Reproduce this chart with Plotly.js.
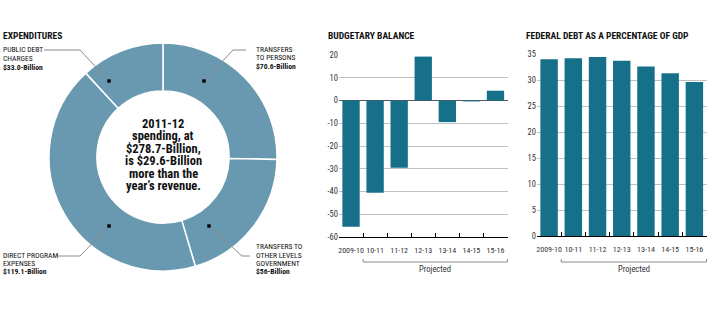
<!DOCTYPE html>
<html><head><meta charset="utf-8">
<script src="https://cdn.plot.ly/plotly-3.0.1.min.js"></script>
<style>html,body{margin:0;padding:0;background:#fff}#chart{width:725px;height:322px}</style>
</head><body><div id="chart"></div>
<script>
// ---- data ----
const spendCategories = ["Transfers to persons", "Transfers to other levels of government", "Direct program expenses", "Public debt charges"];
const spendValues = [70.6, 56, 119.1, 33.0];
const years = ["2009-10", "10-11", "11-12", "12-13", "13-14", "14-15", "15-16"];
const balanceValues = [-55.5, -40.6, -29.6, 19.3, -9.5, -0.4, 4.3];
const debtValues = [34.0, 34.2, 34.4, 33.7, 32.6, 31.3, 29.6];
const balanceTicks = [-60, -50, -40, -30, -20, -10, 0, 10, 20];
const debtTicks = [0, 5, 10, 15, 20, 25, 30, 35];
const centerLines = ["2011-12", "spending, at", "$278.7-Billion,", "is $29.6-Billion", "more than the", "year\u2019s revenue."];
const labelPublicDebt = ["PUBLIC DEBT", "CHARGES", "<b>$33.0-Billion</b>"];
const labelPersons = ["TRANSFERS", "TO PERSONS", "<b>$70.6-Billion</b>"];
const labelOther = ["TRANSFERS TO", "OTHER LEVELS", "GOVERNMENT", "<b>$56-Billion</b>"];
const labelDirect = ["DIRECT PROGRAM", "EXPENSES", "<b>$119.1-Billion</b>"];

// ---- helpers ----
const W = 725, H = 322;
const px = x => x / W, py = y => 1 - y / H;
const FONT = "Roboto Condensed, Liberation Sans Narrow, Roboto, sans-serif";
const RING = "#6899b0", BAR = "#17708a";
const annotations = [];
const shapes = [];
function lines(arr, x, y0, step, size, align, bold, color) {
  arr.forEach((t, i) => annotations.push({
    xref: "paper", yref: "paper", x: px(x), y: py(y0 + i * step),
    xanchor: align, yanchor: "middle", showarrow: false,
    text: bold ? "<b>" + t + "</b>" : t,
    font: {family: FONT, size: size, color: color || "#111"}
  }));
}
function seg(pts) {
  for (let i = 0; i < pts.length - 1; i++) shapes.push({type: "line", xref: "paper", yref: "paper",
    x0: px(pts[i][0]), y0: py(pts[i][1]), x1: px(pts[i + 1][0]), y1: py(pts[i + 1][1]),
    line: {color: "#8a8a8a", width: 1}});
}
function dot(x, y) {
  shapes.push({type: "rect", xref: "paper", yref: "paper", x0: px(x - 1.7), x1: px(x + 1.7), y0: py(y + 1.7), y1: py(y - 1.7),
    fillcolor: "#000", line: {width: 0}});
}

// titles
lines(["EXPENDITURES"], 1, 35, 0, 9.5, "left", true);
lines(["BUDGETARY BALANCE"], 326, 35, 0, 9.5, "left", true);
lines(["FEDERAL DEBT AS A PERCENTAGE OF GDP"], 524, 35, 0, 9.5, "left", true);

// donut center
lines(centerLines, 163, 123, 12.5, 12.5, "center", true);

// labels
lines(labelPublicDebt, 1, 49, 9, 7.6, "left");
lines(labelPersons, 254, 49, 8.5, 7.6, "left");
lines(labelOther, 254, 247, 8.2, 7.6, "left");
lines(labelDirect, 1, 255, 8.2, 7.6, "left");

// leaders
seg([[44, 50], [80, 50], [109, 81]]); dot(109, 81);
seg([[246, 50], [233, 50], [204, 81]]); dot(204, 81);
seg([[209, 226], [242, 256], [250, 256]]); dot(209, 226);
seg([[109, 226], [80, 256], [58, 256]]); dot(109, 226);

// projected brackets (data-linked x)
function bracket(xr, y) {
  shapes.push({type: "path", xref: xr, yref: "paper",
    path: `M 0.5,${py(y - 3)} L 0.5,${py(y)} L 6.5,${py(y)} L 6.5,${py(y - 3)}`,
    line: {color: "#8a8a8a", width: 1}});
  annotations.push({xref: xr, yref: "paper", x: 3.5, y: py(y + 7), showarrow: false,
    text: "Projected", xanchor: "center", yanchor: "middle", font: {family: FONT, size: 8.5, color: "#333"}});
}
bracket("x", 262);
bracket("x2", 262);

const tickFont = {family: FONT, size: 8.5, color: "#333"};
const xTickFont = {family: FONT, size: 8, color: "#333"};
const data = [
  {type: "pie", labels: spendCategories, values: spendValues, sort: false, direction: "clockwise", rotation: 0,
   hole: 0.58, textinfo: "none", hoverinfo: "label+value",
   marker: {colors: spendValues.map(() => RING), line: {color: "#fff", width: 1.5}},
   domain: {x: [px(48), px(278)], y: [py(271), py(43)]}, showlegend: false},
  {type: "bar", x: years, y: balanceValues, xaxis: "x", yaxis: "y", marker: {color: BAR}, showlegend: false},
  {type: "bar", x: years, y: debtValues, xaxis: "x2", yaxis: "y2", marker: {color: BAR}, showlegend: false}
];

const xcommon = {type: "category", showline: true, linecolor: "#000", linewidth: 1, ticks: "inside", ticklen: 4,
  tickcolor: "#000", tickson: "boundaries", tickfont: xTickFont, tickangle: 0, ticklabelstandoff: 5,
  showgrid: false, zeroline: false, fixedrange: true};
const ycommon = {showline: false, ticks: "", tickfont: tickFont, gridcolor: "#b0b0b0", gridwidth: 0.8, fixedrange: true};

const layout = {
  width: W, height: H, margin: {l: 0, r: 0, t: 0, b: 0}, paper_bgcolor: "#fff", plot_bgcolor: "#fff",
  bargap: 0.28, showlegend: false,
  xaxis: Object.assign({}, xcommon, {domain: [px(339), px(508)], anchor: "y"}),
  yaxis: Object.assign({}, ycommon, {domain: [py(237), py(55)], range: [-60, 20], tickvals: balanceTicks,
    ticktext: balanceTicks.map(String), zeroline: true, zerolinecolor: "#555", zerolinewidth: 1, anchor: "x"}),
  xaxis2: Object.assign({}, xcommon, {domain: [px(537), px(707)], anchor: "y2"}),
  yaxis2: Object.assign({}, ycommon, {domain: [py(236), py(54)], range: [0, 35], tickvals: debtTicks,
    ticktext: debtTicks.map(String), zeroline: false, anchor: "x2"}),
  annotations: annotations, shapes: shapes
};
Plotly.newPlot("chart", data, layout, {displayModeBar: false, staticPlot: true});
</script></body></html>
